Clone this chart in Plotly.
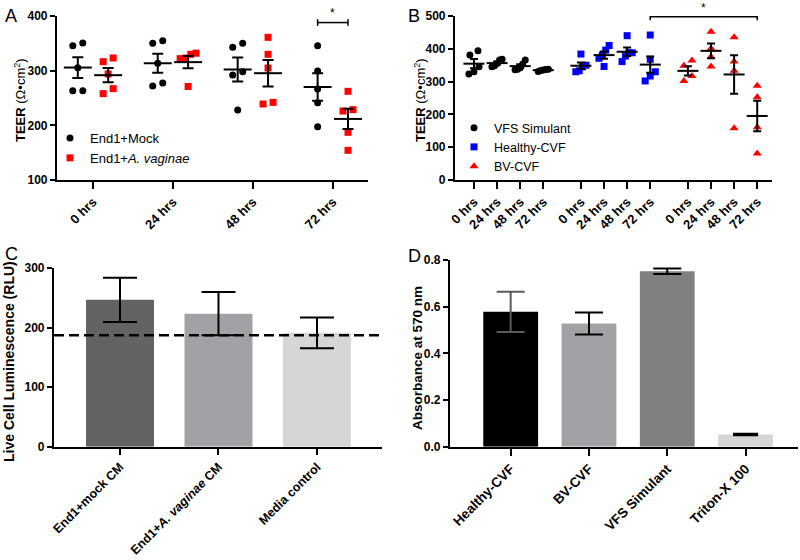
import numpy as np
import plotly.graph_objects as go

# ---------------- Panel A data ----------------
a_times = ["0 hrs", "24 hrs", "48 hrs", "72 hrs"]
a_series = ["End1+Mock", "End1+<i>A. vaginae</i>"]
a_mock = [
    [345.7, 350.6, 305.5, 263.4, 263.4],
    [350.0, 354.9, 313.4, 272.0, 277.4],
    [342.7, 350.0, 228.0, 298.0, 292.0],
    [345.7, 299.4, 266.5, 241.5, 197.6],
]
a_avag = [
    [316.5, 323.2, 293.9, 258.0, 267.1],
    [332.0, 330.0, 271.0, 322.0, 323.0],
    [361.0, 329.9, 304.9, 239.0, 242.0],
    [262.2, 226.2, 228.7, 187.2, 154.3],
]
a_sig_y = 388
a_sig_label = "*"

# ---------------- Panel B data ----------------
b_times = ["0 hrs", "24 hrs", "48 hrs", "72 hrs"]
b_groups = ["VFS Simulant", "Healthy-CVF", "BV-CVF"]
b_vfs = [
    [394, 381, 345, 330, 323],
    [368, 366, 355, 348, 345],
    [366, 354, 342, 336, 338],
    [338, 337, 335, 331, 334],
]
b_healthy = [
    [384, 350, 345, 333, 330],
    [410, 396, 381, 371, 346],
    [440, 388, 388, 378, 361],
    [442, 368, 330, 317, 302],
]
b_bv = [
    [364, 348, 317, 302],
    [452, 401, 376, 346],
    [435, 361, 333, 158],
    [287, 252, 161, 81],
]
b_sig_y = 498
b_sig_label = "*"

# ---------------- Panel C data ----------------
c_labels = ["End1+mock CM", "End1+<i>A. vaginae</i> CM", "Media control"]
c_means = [246.5, 223.4, 191.1]
c_sd = [37.0, 36.2, 25.7]
c_baseline = 187

# ---------------- Panel D data ----------------
d_labels = ["Healthy-CVF", "BV-CVF", "VFS Simulant", "Triton-X 100"]
d_means = [0.578, 0.528, 0.752, 0.052]
d_err = [0.086, 0.047, 0.012, 0.003]

# ---------------- styling ----------------
FONT = "Arial, Liberation Sans, sans-serif"
W, H = 800, 560
RED = "#ff0000"
BLUE = "#0000ff"


def jitter(vals, thresh, spacing, maxw):
    vals = np.asarray(vals, dtype=float)
    order = np.argsort(vals, kind="stable")
    offs = np.zeros(len(vals))
    clusters, cur = [], [order[0]]
    for i in order[1:]:
        if vals[i] - vals[cur[-1]] < thresh:
            cur.append(i)
        else:
            clusters.append(cur)
            cur = [i]
    clusters.append(cur)
    for cl in clusters:
        n = len(cl)
        if n > 1:
            w = min((n - 1) / 2 * spacing, maxw)
            for k, idx in enumerate(cl):
                offs[idx] = -w + 2 * w * k / (n - 1)
    return offs


def mean_sem(v):
    v = np.asarray(v, dtype=float)
    return v.mean(), v.std(ddof=1) / np.sqrt(len(v))


fig = go.Figure()

# ---------- Panel A ----------
a_off = [-0.19, 0.19]
a_style = [dict(symbol="circle", color="black", size=7),
           dict(symbol="square", color=RED, size=7)]
for si, (data, name) in enumerate(zip([a_mock, a_avag], a_series)):
    xs, ys = [], []
    for t, vals in enumerate(data):
        j = jitter(vals, 13, 0.125, 0.1)
        xs += list(t + a_off[si] + j)
        ys += list(vals)
    fig.add_trace(go.Scatter(x=xs, y=ys, mode="markers", name=name,
                             marker=a_style[si], xaxis="x", yaxis="y",
                             legend="legend", showlegend=True))
for si, data in enumerate([a_mock, a_avag]):
    ms = [mean_sem(v) for v in data]
    fig.add_trace(go.Scatter(
        x=[t + a_off[si] for t in range(len(data))], y=[m for m, s in ms],
        mode="markers", showlegend=False, xaxis="x", yaxis="y",
        marker=dict(symbol="line-ew", size=20, line=dict(width=2, color="black")),
        error_y=dict(type="data", array=[s for m, s in ms], color="black",
                     thickness=2, width=5.5)))
x1, x2 = 3 + a_off[0], 3 + a_off[1]
d = 6
fig.add_trace(go.Scatter(
    x=[x1, x1, None, x1, x2, None, x2, x2],
    y=[a_sig_y - d, a_sig_y + d, None, a_sig_y, a_sig_y, None, a_sig_y - d, a_sig_y + d],
    mode="lines", line=dict(color="black", width=1.5), showlegend=False,
    cliponaxis=False, xaxis="x", yaxis="y"))
fig.add_annotation(x=3, y=a_sig_y, xref="x", yref="y", text=a_sig_label,
                   showarrow=False, yanchor="bottom", yshift=1,
                   font=dict(family=FONT, size=12, color="black"))

# ---------- Panel B ----------
b_gap = 4.63
b_style = [dict(symbol="circle", color="black", size=7),
           dict(symbol="square", color=BLUE, size=7),
           dict(symbol="triangle-up", color=RED, size=8)]
b_data = [b_vfs, b_healthy, b_bv]
for g, (data, name) in enumerate(zip(b_data, b_groups)):
    xs, ys = [], []
    for t, vals in enumerate(data):
        j = jitter(vals, 18, 0.35, 0.22)
        xs += list(g * b_gap + t + j)
        ys += list(vals)
    fig.add_trace(go.Scatter(x=xs, y=ys, mode="markers", name=name,
                             marker=b_style[g], xaxis="x2", yaxis="y2",
                             legend="legend2", showlegend=True))
for g, data in enumerate(b_data):
    ms = [mean_sem(v) for v in data]
    fig.add_trace(go.Scatter(
        x=[g * b_gap + t for t in range(len(data))], y=[m for m, s in ms],
        mode="markers", showlegend=False, xaxis="x2", yaxis="y2",
        marker=dict(symbol="line-ew", size=15, line=dict(width=2, color="black")),
        error_y=dict(type="data", array=[s for m, s in ms], color="black",
                     thickness=2, width=4)))
bx1, bx2 = 1 * b_gap + 3, 2 * b_gap + 3
d = 11
fig.add_trace(go.Scatter(
    x=[bx1, bx1, None, bx1, bx2, None, bx2, bx2],
    y=[b_sig_y - d, b_sig_y + d, None, b_sig_y, b_sig_y, None, b_sig_y - d, b_sig_y + d],
    mode="lines", line=dict(color="black", width=1.5), showlegend=False,
    cliponaxis=False, xaxis="x2", yaxis="y2"))
fig.add_annotation(x=(bx1 + bx2) / 2, y=b_sig_y, xref="x2", yref="y2", text=b_sig_label,
                   showarrow=False, yanchor="bottom", yshift=0,
                   font=dict(family=FONT, size=12, color="black"))
b_tickvals = [g * b_gap + t for g in range(3) for t in range(4)]
b_ticktext = [t for g in range(3) for t in b_times]

# ---------- Panel C ----------
c_colors = ["#636363", "#a2a2a6", "#d6d6d6"]
fig.add_trace(go.Bar(
    x=list(range(len(c_labels))), y=c_means, width=0.69,
    marker=dict(color=c_colors, line=dict(width=0)), showlegend=False,
    xaxis="x3", yaxis="y3",
    error_y=dict(type="data", array=c_sd, color="black", thickness=2, width=17)))
fig.add_shape(type="line", xref="x3 domain", yref="y3", x0=0, x1=1,
              y0=c_baseline, y1=c_baseline,
              line=dict(color="black", width=2.5, dash="10px,5px"))

# ---------- Panel D ----------
d_colors = ["#000000", "#a2a2a6", "#808080", "#d6d6d6"]
d_errcol = ["#5a5a5a", "black", "black", "black"]
d_capw = [14, 14, 14, 12.5]
for i in range(len(d_labels)):
    fig.add_trace(go.Bar(
        x=[i], y=[d_means[i]], width=0.70,
        marker=dict(color=d_colors[i], line=dict(width=0)), showlegend=False,
        xaxis="x4", yaxis="y4",
        error_y=dict(type="data", array=[d_err[i]], color=d_errcol[i],
                     thickness=2, width=d_capw[i])))


# ---------- layout ----------
def px_x(a, b):
    return [a / W, b / W]


def px_y(top, bottom):
    return [1 - bottom / H, 1 - top / H]


def axis_style(tsize=12, tlen=5):
    return dict(showline=True, linecolor="black", linewidth=2.2, ticks="outside",
                ticklen=tlen, tickwidth=2, tickcolor="black", showgrid=False,
                zeroline=False, automargin=False,
                tickfont=dict(family=FONT, size=tsize, color="black", weight="bold"))


fig.update_layout(
    width=W, height=H, margin=dict(l=0, r=0, t=0, b=0, pad=0),
    paper_bgcolor="white", plot_bgcolor="white",
    font=dict(family=FONT, color="black"),
    barmode="overlay",
    xaxis=dict(axis_style(13, 7), domain=px_x(57, 368), range=[-0.45, 3.44],
               tickvals=list(range(4)), ticktext=a_times, tickangle=-45, anchor="y"),
    yaxis=dict(axis_style(12), domain=px_y(16, 180), range=[100, 400],
               tickvals=[100, 200, 300, 400], anchor="x"),
    xaxis2=dict(axis_style(13, 7), domain=px_x(455, 772), range=[-0.82, 12.9],
                tickvals=b_tickvals, ticktext=b_ticktext, tickangle=-45, anchor="y2"),
    yaxis2=dict(axis_style(12), domain=px_y(16, 180), range=[0, 500], dtick=100, anchor="x2"),
    xaxis3=dict(axis_style(12.5, 6), domain=px_x(54, 382), range=[-0.67, 2.66],
                tickvals=list(range(3)), ticktext=c_labels, tickangle=-45, anchor="y3"),
    yaxis3=dict(axis_style(12), domain=px_y(268, 446.7), range=[0, 300], dtick=100, anchor="x3"),
    xaxis4=dict(axis_style(13.5, 7), domain=px_x(450, 798), range=[-0.775, 3.67],
                tickvals=list(range(4)), ticktext=d_labels, tickangle=-45, anchor="y4"),
    yaxis4=dict(axis_style(12), domain=px_y(260, 446.7), range=[0, 0.8], dtick=0.2,
                tickformat=".1f", anchor="x4"),
    legend=dict(x=50 / W, y=1 - 123 / H, xanchor="left", yanchor="top",
                bgcolor="rgba(0,0,0,0)", font=dict(family=FONT, size=13, color="black")),
    legend2=dict(x=454 / W, y=1 - 113 / H, xanchor="left", yanchor="top",
                 bgcolor="rgba(0,0,0,0)", font=dict(family=FONT, size=12.5, color="black")),
)

# y-axis titles
y_titles = [
    ("<b>TEER</b> (Ω•cm<sup>2</sup>)", 20, 100, 13),
    ("<b>TEER</b> (Ω•cm<sup>2</sup>)", 420, 100, 13),
    ("<b>Live Cell Luminescence (RLU)</b>", 9, 362, 14),
    ("<b>Absorbance at 570 nm</b>", 417, 358, 13.5),
]
for text, cx, cy, fs in y_titles:
    fig.add_annotation(x=cx / W, y=1 - cy / H, xref="paper", yref="paper", text=text,
                       textangle=-90, showarrow=False, xanchor="center", yanchor="middle",
                       font=dict(family=FONT, size=fs, color="black"))

for letter, (lx, ly) in zip("ABCD", [(3, 4), (406, 4), (3, 242), (406, 244)]):
    fig.add_annotation(x=lx / W, y=1 - ly / H, xref="paper", yref="paper", text=letter,
                       showarrow=False, xanchor="left", yanchor="top",
                       font=dict(family=FONT, size=18, color="black"))

# remove the browser's default 8px body margin so the figure fills the window
fig.write_html("out.html", config={"displayModeBar": False},
               post_script="document.body.style.margin='0';")
